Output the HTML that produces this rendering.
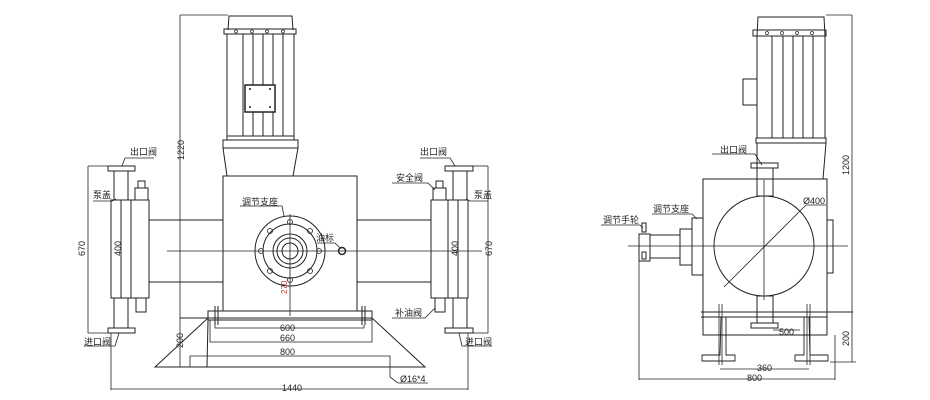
<!DOCTYPE html>
<html><head><meta charset="utf-8"><style>
html,body{margin:0;padding:0;background:#fff;width:930px;height:400px;overflow:hidden}
svg text{font-family:"Liberation Sans","Noto Sans CJK SC",sans-serif;font-size:9px;fill:#222}
</style></head><body>
<svg width="930" height="400" viewBox="0 0 930 400" xmlns="http://www.w3.org/2000/svg">
<g fill="none" stroke="#222" stroke-width="1">
<!-- LEFT VIEW motor -->
<path d="M228 30 L229 16 L292 16 L293 30"/>
<rect x="224" y="29" width="72" height="5"/>
<g stroke-width="0.7"><circle cx="236" cy="31.5" r="1.5"/><circle cx="252" cy="31.5" r="1.5"/><circle cx="267" cy="31.5" r="1.5"/><circle cx="283" cy="31.5" r="1.5"/></g>
<rect x="227" y="34" width="67" height="102"/>
<line x1="243" y1="34" x2="243" y2="136"/><line x1="253" y1="34" x2="253" y2="136"/><line x1="263" y1="34" x2="263" y2="136"/><line x1="273" y1="34" x2="273" y2="136"/><line x1="283" y1="34" x2="283" y2="136"/>
<rect x="245" y="85" width="30" height="27" fill="#fff" stroke-width="1.5"/>
<g fill="#222" stroke="none"><circle cx="250" cy="89" r="1"/><circle cx="270" cy="89" r="1"/><circle cx="250" cy="107" r="1"/><circle cx="270" cy="107" r="1"/></g>
<rect x="227" y="136" width="67" height="4"/>
<rect x="223" y="140" width="75" height="8"/>
<path d="M223 148 L227 176 L293 176 L298 148"/>
<rect x="223" y="176" width="134" height="135"/>
<!-- arms -->
<line x1="149" y1="220" x2="223" y2="220"/><line x1="149" y1="282" x2="223" y2="282"/>
<line x1="357" y1="220" x2="431" y2="220"/><line x1="357" y1="282" x2="431" y2="282"/>
<!-- left head -->
<rect x="111" y="200" width="38" height="98"/>
<line x1="121" y1="200" x2="121" y2="298"/><line x1="131" y1="200" x2="131" y2="298"/>
<rect x="114" y="171" width="14" height="29"/><rect x="108" y="166" width="27" height="5"/>
<rect x="114" y="298" width="14" height="30"/><rect x="108" y="328" width="27" height="5"/>
<rect x="135" y="188" width="13" height="12"/><rect x="138" y="181" width="7" height="7"/>
<rect x="136" y="298" width="10" height="14"/>
<!-- right head -->
<rect x="431" y="200" width="37" height="98"/>
<line x1="448" y1="200" x2="448" y2="298"/><line x1="458" y1="200" x2="458" y2="298"/>
<rect x="453" y="171" width="14" height="29"/><rect x="445" y="166" width="28" height="5"/>
<rect x="453" y="298" width="14" height="30"/><rect x="445" y="328" width="28" height="5"/>
<rect x="433" y="188" width="13" height="12"/><rect x="436" y="181" width="7" height="7"/>
<rect x="435" y="298" width="10" height="14"/>
<!-- centerline -->
<line x1="167" y1="251" x2="482" y2="251" stroke-width="0.8"/>
<!-- flange -->
<circle cx="290" cy="251" r="35"/><circle cx="290" cy="251" r="27"/>
<circle cx="290" cy="251" r="17"/><circle cx="290" cy="251" r="13"/><circle cx="290" cy="251" r="8"/>
<g stroke-width="0.8">
<circle cx="290" cy="222" r="2.5"/><circle cx="290" cy="280" r="2.5"/><circle cx="261" cy="251" r="2.5"/><circle cx="319" cy="251" r="2.5"/>
<circle cx="270" cy="231" r="2.5"/><circle cx="310" cy="231" r="2.5"/><circle cx="270" cy="271" r="2.5"/><circle cx="310" cy="271" r="2.5"/>
</g>
<line x1="290" y1="214" x2="290" y2="316" stroke-width="0.8"/>
<circle cx="342" cy="251" r="3.5" stroke-width="1.5"/>
<!-- base -->
<rect x="208" y="311" width="164" height="9"/>
<line x1="215" y1="306" x2="215" y2="325"/><line x1="218" y1="306" x2="218" y2="325"/>
<line x1="362" y1="306" x2="362" y2="325"/><line x1="365" y1="306" x2="365" y2="325"/>
<line x1="180" y1="318" x2="372" y2="318"/>
<path d="M208 318 L155 367 L425 367 L372 318"/>
<path d="M208 320 L207 367"/>
<!-- dims left -->
<line x1="180" y1="15" x2="180" y2="367" stroke-width="0.8"/><line x1="180" y1="15" x2="228" y2="15" stroke-width="0.8"/>
<line x1="88" y1="166" x2="88" y2="333" stroke-width="0.8"/><line x1="88" y1="166" x2="108" y2="166" stroke-width="0.8"/><line x1="88" y1="333" x2="108" y2="333" stroke-width="0.8"/>
<line x1="488" y1="166" x2="488" y2="333" stroke-width="0.8"/><line x1="473" y1="166" x2="488" y2="166" stroke-width="0.8"/><line x1="473" y1="333" x2="488" y2="333" stroke-width="0.8"/>
<path d="M215 325 L215 328 L364 328 L364 325" stroke-width="0.8"/>
<path d="M210 320 L210 342 L372 342 L372 320" stroke-width="0.8"/>
<path d="M190 367 L190 356 L390 356 L390 377" stroke-width="0.8"/>
<line x1="111" y1="333" x2="111" y2="390" stroke-width="0.8"/><line x1="468" y1="333" x2="468" y2="390" stroke-width="0.8"/>
<line x1="111" y1="389" x2="468" y2="389" stroke-width="0.8"/>
<!-- leaders left -->
<path d="M125 158 L154 158 M125 158 L122 166" stroke-width="0.8"/>
<path d="M93 201 L112 201 L116 199" stroke-width="0.8"/>
<path d="M84 346 L115 346 L119 333" stroke-width="0.8"/>
<path d="M240 206 L282 206 L284 216" stroke-width="0.8"/>
<path d="M317 243 L335 243 L340 248" stroke-width="0.8"/>
<path d="M392 183 L428 183 L435 190" stroke-width="0.8"/>
<path d="M470 201 L488 201 M470 201 L466 199" stroke-width="0.8"/>
<path d="M420 158 L450 158 L455 166" stroke-width="0.8"/>
<path d="M392 318 L425 318 L435 308" stroke-width="0.8"/>
<path d="M462 346 L492 346 M462 346 L459 333" stroke-width="0.8"/>
<path d="M390 377 L398 383 L428 383" stroke-width="0.8"/>

<!-- RIGHT VIEW -->
<path d="M757 36 L758 17 L824 17 L825 36"/>
<rect x="753" y="30" width="73" height="6"/>
<g stroke-width="0.7"><circle cx="767" cy="33" r="1.5"/><circle cx="782" cy="33" r="1.5"/><circle cx="797" cy="33" r="1.5"/><circle cx="812" cy="33" r="1.5"/></g>
<rect x="757" y="36" width="68" height="102"/>
<line x1="772" y1="36" x2="772" y2="138"/><line x1="783" y1="36" x2="783" y2="138"/><line x1="793" y1="36" x2="793" y2="138"/><line x1="803" y1="36" x2="803" y2="138"/><line x1="813" y1="36" x2="813" y2="138"/>
<rect x="743" y="79" width="14" height="26"/>
<rect x="756" y="138" width="70" height="5"/>
<path d="M757 143 L757 175 M826 143 L823 179"/>
<rect x="751" y="163" width="27" height="5"/>
<rect x="757" y="168" width="16" height="28"/>
<rect x="703" y="179" width="124" height="156"/>
<rect x="827" y="220" width="6" height="53"/>
<circle cx="764" cy="246" r="50"/>
<line x1="764" y1="180" x2="764" y2="300" stroke-width="0.8"/>
<line x1="628" y1="246" x2="848" y2="246" stroke-width="0.8"/>
<line x1="724" y1="287" x2="806" y2="205" stroke-width="0.8"/>
<line x1="806" y1="205" x2="826" y2="205" stroke-width="0.8"/>
<rect x="692" y="218" width="11" height="57"/>
<rect x="680" y="229" width="12" height="36"/>
<line x1="650" y1="235" x2="680" y2="235"/><line x1="650" y1="258" x2="680" y2="258"/>
<rect x="639" y="234" width="11" height="27"/>
<rect x="642" y="223" width="4" height="9"/><rect x="642" y="252" width="4" height="7"/>
<rect x="757" y="296" width="16" height="27"/>
<rect x="751" y="323" width="27" height="5"/>
<line x1="701" y1="312" x2="853" y2="312"/><line x1="701" y1="317" x2="827" y2="317"/>
<line x1="703" y1="335" x2="827" y2="335"/>
<path d="M703 317 L703 335 M827 317 L827 335"/>
<path d="M721 317 L726 317 L726 355 L735 355 L735 361 L702 361 L702 355 L720 355 Z" stroke-width="0.9"/>
<path d="M809 317 L804 317 L804 355 L795 355 L795 361 L828 361 L828 355 L810 355 Z" stroke-width="0.9"/>
<line x1="719" y1="304" x2="719" y2="365" stroke-width="0.8"/><line x1="722" y1="304" x2="722" y2="365" stroke-width="0.8"/>
<line x1="807" y1="304" x2="807" y2="365" stroke-width="0.8"/><line x1="810" y1="304" x2="810" y2="365" stroke-width="0.8"/>
<line x1="720" y1="369" x2="809" y2="369" stroke-width="0.8"/>
<line x1="639" y1="260" x2="639" y2="380" stroke-width="0.8"/><line x1="835" y1="335" x2="835" y2="380" stroke-width="0.8"/>
<line x1="639" y1="379" x2="835" y2="379" stroke-width="0.8"/>
<line x1="852" y1="15" x2="852" y2="362" stroke-width="0.8"/>
<line x1="826" y1="15" x2="852" y2="15" stroke-width="0.8"/>
<line x1="830" y1="362" x2="856" y2="362" stroke-width="0.8"/>
<line x1="773" y1="330" x2="800" y2="330" stroke-width="0.8"/>
<path d="M712 154 L755 154 L762 165" stroke-width="0.8"/>
<path d="M652 214 L692 214 L697 219" stroke-width="0.8"/>
<path d="M601 225 L640 225 L643 228" stroke-width="0.8"/>
</g>
<!-- TEXT -->
<text x="130" y="155">出口阀</text>
<text x="93" y="198">泵盖</text>
<text x="84" y="345">进口阀</text>
<text x="242" y="205">调节支座</text>
<text x="316" y="241">油标</text>
<text x="396" y="181">安全阀</text>
<text x="474" y="198">泵盖</text>
<text x="420" y="155">出口阀</text>
<text x="395" y="316">补油阀</text>
<text x="465" y="345">进口阀</text>
<text x="400" y="382">Ø16*4</text>
<text x="280" y="331">600</text>
<text x="280" y="341">660</text>
<text x="280" y="355">800</text>
<text x="282" y="391">1440</text>
<text transform="translate(184,160) rotate(-90)">1220</text>
<text transform="translate(85,256) rotate(-90)">670</text>
<text transform="translate(121,256) rotate(-90)">400</text>
<text transform="translate(458,256) rotate(-90)">400</text>
<text transform="translate(492,256) rotate(-90)">670</text>
<text transform="translate(183,348) rotate(-90)">200</text>
<text transform="translate(287,294) rotate(-90)" style="fill:#b33;font-size:8px">270</text>
<text x="720" y="153">出口阀</text>
<text x="653" y="212">调节支座</text>
<text x="603" y="223">调节手轮</text>
<text x="803" y="204">Ø400</text>
<text x="779" y="335">500</text>
<text x="757" y="371">360</text>
<text x="747" y="381">800</text>
<text transform="translate(849,175) rotate(-90)">1200</text>
<text transform="translate(849,346) rotate(-90)">200</text>
</svg>
</body></html>
